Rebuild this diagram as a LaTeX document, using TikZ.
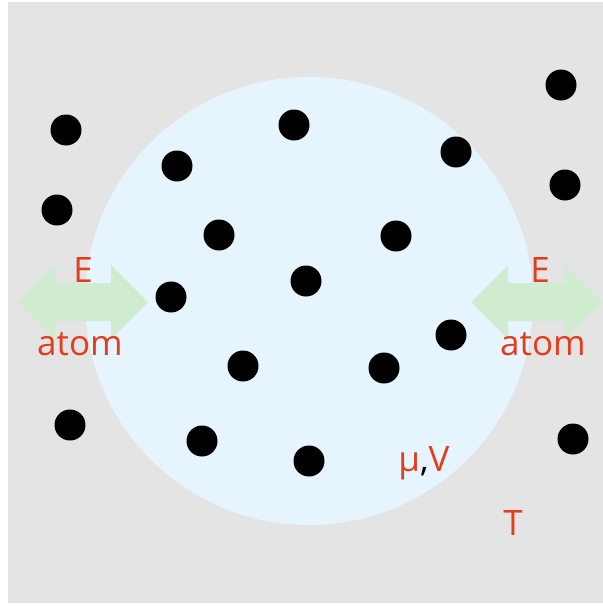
\documentclass[tikz,border=0pt]{standalone}
\usepackage{fontspec}
\setmainfont{Open Sans}
\definecolor{backdrop}{RGB}{228,228,228}
\definecolor{region}{RGB}{230,244,253}
\definecolor{flux}{RGB}{207,235,208}
\definecolor{label}{RGB}{226,62,30}
\usetikzlibrary{positioning}

\begin{document}
\begin{tikzpicture}[x=1pt, y=-1pt,
    every node/.style={font=\fontsize{35}{40}\selectfont, text=label, inner sep=0pt},
    particle/.style={circle, fill=black, minimum size=31pt, inner sep=0pt}]
    \useasboundingbox (0,0) rectangle (603,606);
    % surroundings and the open region
    \fill[backdrop] (8,2) rectangle (603,603);
    \fill[region] (309,301) circle[radius=224];
    % exchange arrows
    \fill[flux] (18,302) -- (55,265) -- (55,283) -- (111,283) -- (111,265) -- (148,302)
        -- (111,339) -- (111,321) -- (55,321) -- (55,339) -- cycle;
    \fill[flux] (471,302) -- (508,265) -- (508,283) -- (565,283) -- (565,265) -- (602,302)
        -- (565,339) -- (565,321) -- (508,321) -- (508,339) -- cycle;
    % particles
    \foreach \px/\py [count=\i] in {66/130, 294/125, 561/85, 177/166, 456/152, 57/210,
        565/185, 219/235, 396/236, 306/281, 171/297, 451/335, 243/366, 384/368,
        70/425, 202/441, 309/461, 573/439}
        \node[particle] (p\i) at (\px,\py) {};
    % labels
    \node[anchor=base] (eleft) at (83,282) {E};
    \node[anchor=base] (aleft) at (80,355) {atom};
    \node[anchor=base] (eright) at (540,282) {E};
    \node[anchor=base] (aright) at (543,355) {atom};
    \node[anchor=base] (muv) at (424,471) {μ\textcolor{black}{,}V};
    \node[anchor=base] (temp) at (513,535) {T};
\end{tikzpicture}
\end{document}
